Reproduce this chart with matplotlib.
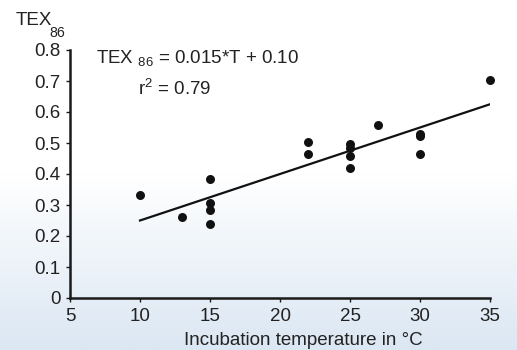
import numpy as np
import matplotlib
matplotlib.use("Agg")
import matplotlib.pyplot as plt
from matplotlib.colors import LinearSegmentedColormap

plt.rcParams['font.family'] = ['Liberation Sans', 'DejaVu Sans']
plt.rcParams['mathtext.fontset'] = 'custom'
plt.rcParams['mathtext.rm'] = 'Liberation Sans'
plt.rcParams['mathtext.it'] = 'Liberation Sans'

# Data
temp = [10, 13, 15, 15, 15, 15, 22, 22, 25, 25, 25, 25, 27, 30, 30, 30, 35]
tex86 = [0.332, 0.26, 0.383, 0.305, 0.284, 0.238, 0.504, 0.465,
         0.496, 0.483, 0.459, 0.418, 0.558, 0.53, 0.524, 0.465, 0.703]
slope = 0.015
intercept = 0.10
fit_range = [10, 35]
xticks = [5, 10, 15, 20, 25, 30, 35]
yticks = [0, 0.1, 0.2, 0.3, 0.4, 0.5, 0.6, 0.7, 0.8]

fs = 13.5
tc = "#222222"

fig = plt.figure(figsize=(5.17, 3.5), dpi=100)

# background: white top fading into light blue at the bottom
bg = fig.add_axes([0, 0, 1, 1], zorder=-10)
cmap = LinearSegmentedColormap.from_list("bg", ["#ffffff", "#ffffff", "#dbe7f3"])
grad = np.linspace(0, 1, 256).reshape(-1, 1)
bg.imshow(grad, aspect="auto", cmap=cmap, extent=[0, 1, 0, 1],
          origin="upper", vmin=0, vmax=1)
bg.set_xlim(0, 1)
bg.set_ylim(0, 1)
bg.axis("off")

ax = fig.add_axes([70 / 517, 52 / 350, 420 / 517, 248 / 350])
ax.patch.set_alpha(0)

ax.scatter(temp, tex86, s=42, color="#111111", zorder=3, clip_on=False,
           linewidths=0)
fx = np.array(fit_range)
ax.plot(fx, slope * fx + intercept, color="#111111", lw=1.6)

ax.set_xlim(5, 35)
ax.set_ylim(0, 0.8)
ax.set_xticks(xticks)
ax.set_yticks(yticks)
ax.set_yticklabels(["0" if v == 0 else f"{v:.1f}" for v in yticks])
for s in ["top", "right"]:
    ax.spines[s].set_visible(False)
for s in ["left", "bottom"]:
    ax.spines[s].set_linewidth(1.8)
    ax.spines[s].set_color("#1a1a1a")
ax.tick_params(length=3, width=1, color="#1a1a1a", labelsize=fs,
               labelcolor=tc)
ax.tick_params(axis="y", pad=4)
ax.tick_params(axis="x", pad=4)

fig.text(96 / 517, 1 - 63 / 350, r"TEX $_{86}$ = 0.015*T + 0.10",
         fontsize=fs, color=tc, va="baseline")
fig.text(138 / 517, 1 - 95 / 350, r"r$^{2}$ = 0.79",
         fontsize=fs, color=tc, va="baseline")
# y axis title, subscript dropped below the baseline
fig.text(16 / 517, 1 - 25 / 350, "TEX", fontsize=fs, color=tc, va="baseline")
fig.text(49 / 517, 1 - 37 / 350, "86", fontsize=fs * 0.75, color=tc,
         va="baseline")
fig.text(303 / 517, 1 - 345 / 350, "Incubation temperature in °C",
         fontsize=fs, color=tc, ha="center", va="baseline")

fig.savefig("out.png", dpi=100)
